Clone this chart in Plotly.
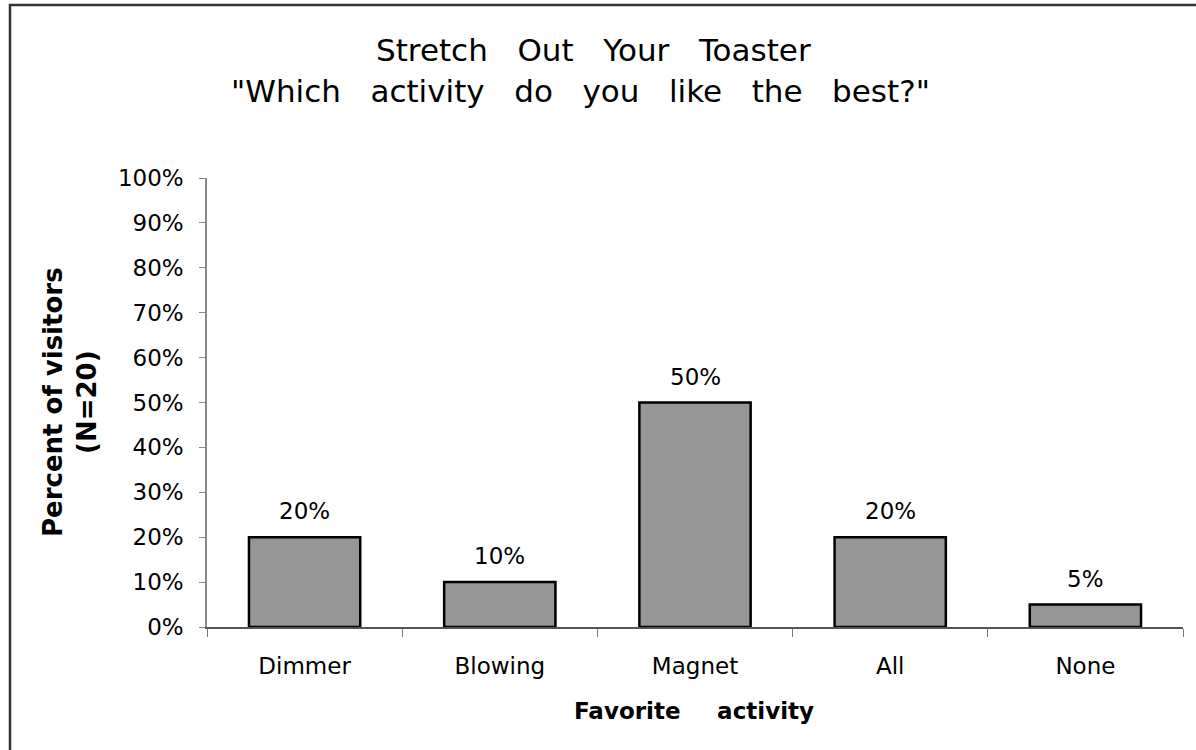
import plotly.graph_objects as go

categories = ["Dimmer", "Blowing", "Magnet", "All", "None"]
values = [0.20, 0.10, 0.50, 0.20, 0.05]
value_labels = ["20%", "10%", "50%", "20%", "5%"]
y_ticks = [0, 0.1, 0.2, 0.3, 0.4, 0.5, 0.6, 0.7, 0.8, 0.9, 1.0]
y_tick_labels = ["0%", "10%", "20%", "30%", "40%", "50%", "60%", "70%", "80%", "90%", "100%"]

W, H = 1196, 750
ML, MR, MT, MB = 207, 13, 178, 123
PW = W - ML - MR
PH = H - MT - MB

def px_x(p):
    return (p - ML) / PW

def px_y(p):
    return (H - MB - p) / PH

fig = go.Figure()
fig.add_trace(go.Bar(
    x=categories, y=values,
    marker=dict(color="#969696", line=dict(color="#000000", width=2.5)),
    width=0.57, showlegend=False, hoverinfo="skip",
))

for c, v, t in zip(categories, values, value_labels):
    fig.add_annotation(x=c, y=v, text=t, showarrow=False, yshift=26,
                       xanchor="center", yanchor="middle",
                       font=dict(family="DejaVu Sans", size=23, color="#000"))

sp = "\u00a0\u00a0\u00a0"
title_font = dict(family="DejaVu Sans", size=31, color="#000")
fig.add_annotation(xref="paper", yref="paper", x=px_x(593), y=px_y(50),
                   xanchor="center", yanchor="middle",
                   text=sp.join(["Stretch", "Out", "Your", "Toaster"]),
                   showarrow=False, font=title_font)
fig.add_annotation(xref="paper", yref="paper", x=px_x(580), y=px_y(91),
                   xanchor="center", yanchor="middle",
                   text=sp.join(["\"Which", "activity", "do", "you", "like", "the", "best?\""]),
                   showarrow=False, font=title_font)
fig.add_annotation(xref="paper", yref="paper", x=px_x(70), y=px_y(402),
                   xanchor="center", yanchor="middle",
                   text="<b>Percent of visitors<br>(N=20)</b>", textangle=-90,
                   showarrow=False, font=dict(family="DejaVu Sans", size=26, color="#000"))
fig.add_annotation(xref="paper", yref="paper", x=px_x(694), y=px_y(711),
                   xanchor="center", yanchor="middle",
                   text="<b>Favorite\u00a0\u00a0\u00a0\u00a0\u2009activity</b>",
                   showarrow=False, font=dict(family="DejaVu Sans", size=23, color="#000"))

fig.add_shape(type="rect", xref="paper", yref="paper",
              x0=px_x(10), x1=px_x(1230), y0=px_y(5), y1=px_y(800),
              line=dict(color="#333333", width=2.5), fillcolor="rgba(0,0,0,0)", layer="below")

fig.update_layout(
    width=W, height=H,
    margin=dict(l=ML, r=MR, t=MT, b=MB),
    paper_bgcolor="white", plot_bgcolor="white",
    font=dict(family="DejaVu Sans", size=23, color="#000"),
    xaxis=dict(showline=True, linecolor="#555555", linewidth=1.5,
               ticks="outside", tickson="boundaries", ticklen=8, tickcolor="#777777",
               ticklabelstandoff=18,
               tickfont=dict(family="DejaVu Sans", size=23, color="#000"),
               showgrid=False, range=[-0.5, 4.5], fixedrange=True),
    yaxis=dict(showline=True, linecolor="#888888", linewidth=1.5,
               ticks="outside", ticklen=6, tickcolor="#888888",
               ticklabelstandoff=11,
               tickvals=y_ticks, ticktext=y_tick_labels, range=[0, 1.0],
               tickfont=dict(family="DejaVu Sans", size=23, color="#000"),
               showgrid=False, zeroline=False, fixedrange=True),
)

fig.write_html("out.html", config={"displayModeBar": False},
               post_script="document.body.style.margin='0px';document.body.style.overflow='hidden';")
